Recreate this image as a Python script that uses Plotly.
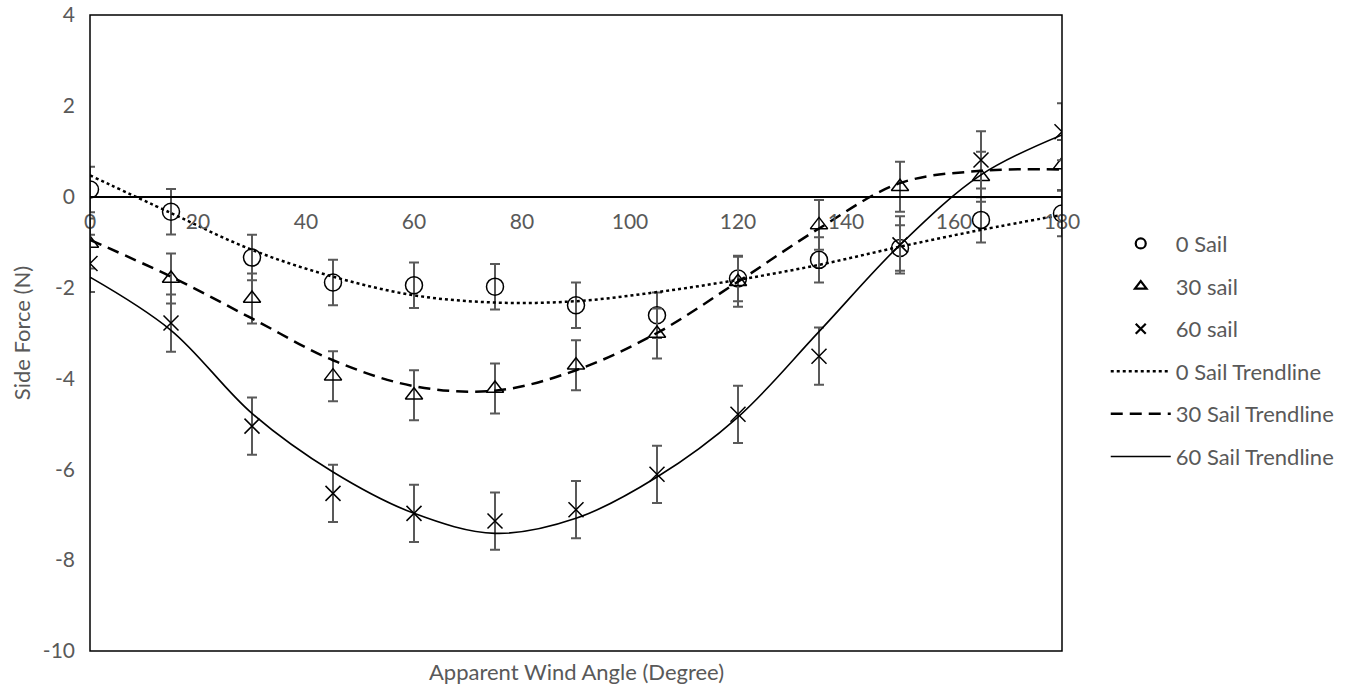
import plotly.graph_objects as go

angles = [0, 15, 30, 45, 60, 75, 90, 105, 120, 135, 150, 165, 180]

sail0 = [0.16, -0.33, -1.34, -1.89, -1.95, -1.98, -2.39, -2.61, -1.80, -1.39, -1.13, -0.51, -0.37]
sail30 = [-1.03, -1.80, -2.24, -3.95, -4.37, -4.22, -3.71, -3.01, -1.87, -0.62, 0.22, 0.44, 0.70]
sail60 = [-1.47, -2.78, -5.05, -6.53, -6.97, -7.14, -6.89, -6.11, -4.79, -3.51, -1.06, 0.81, 1.43]

err0 = [0.5] * 13
err30 = [0.55] * 13
err60 = [0.63] * 13

trend0 = [0.47, -0.36, -1.17, -1.76, -2.17, -2.33, -2.30, -2.10, -1.83, -1.50, -1.10, -0.73, -0.40]
trend30 = [-0.95, -1.76, -2.68, -3.60, -4.17, -4.27, -3.82, -3.00, -1.87, -0.70, 0.30, 0.57, 0.60]
trend60 = [-1.77, -2.94, -4.77, -6.06, -6.97, -7.41, -7.08, -6.17, -4.85, -2.97, -1.06, 0.48, 1.36]

x_ticks = [0, 20, 40, 60, 80, 100, 120, 140, 160, 180]
y_ticks = [-10, -8, -6, -4, -2, 0, 2, 4]

GRAY = "#595959"
FONT = "Lato"
FS = 21
FS_TEXT = 22

fig = go.Figure()

marker_series = [
    ("0 Sail", sail0, err0, "circle-open", 17, 10),
    ("30 sail", sail30, err30, "triangle-up-open", 15, 10),
    ("60 sail", sail60, err60, "x-thin-open", 15, 10),
]
for i, (name, ys, err, sym, sz, lsz) in enumerate(marker_series):
    fig.add_trace(go.Scatter(
        x=angles, y=ys, mode="markers", name=name, showlegend=False,
        marker=dict(symbol=sym, size=sz, color="black", line=dict(color="black", width=1.5)),
        error_y=dict(type="data", array=err, visible=True, color=GRAY, thickness=2, width=5),
    ))
    # legend entry with the smaller legend glyph
    fig.add_trace(go.Scatter(
        x=[None], y=[None], mode="markers", name=name, legendgroup=f"g{i}",
        marker=dict(symbol=sym, size=lsz, color="black", line=dict(color="black", width=2.2)),
    ))

trend_series = [
    ("0 Sail Trendline", trend0, "dot", 2.5),
    ("30 Sail Trendline", trend30, "12px,7px", 2.5),
    ("60 Sail Trendline", trend60, "solid", 1.6),
]
for i, (name, ys, dash, w) in enumerate(trend_series):
    fig.add_trace(go.Scatter(
        x=angles, y=ys, mode="lines", name=name, legendgroup=f"t{i}",
        line=dict(color="black", width=w, dash=dash, shape="spline", smoothing=1.0),
    ))

fig.update_layout(
    width=1357, height=686,
    margin=dict(l=90, r=295, t=15, b=35),
    paper_bgcolor="white", plot_bgcolor="white",
    font=dict(family=FONT, size=FS, color=GRAY),
    showlegend=True,
    legend=dict(
        x=1.045, y=0.473, xanchor="left", yanchor="middle",
        font=dict(family=FONT, size=FS_TEXT, color=GRAY),
        tracegroupgap=11, itemwidth=60, bgcolor="rgba(0,0,0,0)",
    ),
    xaxis=dict(
        range=[0, 180], tickvals=x_ticks, ticktext=[str(v) for v in x_ticks],
        showgrid=False, zeroline=False, showline=True, linecolor="black", linewidth=1.5,
        anchor="free", position=10 / 14, ticks="", automargin=False,
        ticklabelstandoff=6,
        tickfont=dict(family=FONT, size=FS, color=GRAY),
    ),
    yaxis=dict(
        range=[-10, 4], tickvals=y_ticks, ticktext=[str(v) for v in y_ticks],
        showgrid=False, zeroline=False, showline=False, ticks="", automargin=False,
        ticklabelstandoff=14,
        tickfont=dict(family=FONT, size=FS, color=GRAY),
        title=dict(text="Side Force (N)", font=dict(family=FONT, size=FS_TEXT, color=GRAY), standoff=6),
    ),
    shapes=[dict(type="rect", xref="paper", yref="paper", x0=0, x1=1, y0=0, y1=1,
                 line=dict(color="black", width=1.5), layer="above")],
    annotations=[dict(text="Apparent Wind Angle (Degree)", xref="paper", yref="paper",
                      x=0.5, y=0, xanchor="center", yanchor="top", yshift=-5, showarrow=False,
                      font=dict(family=FONT, size=FS_TEXT, color=GRAY))],
)

fig.write_html("out.html")
